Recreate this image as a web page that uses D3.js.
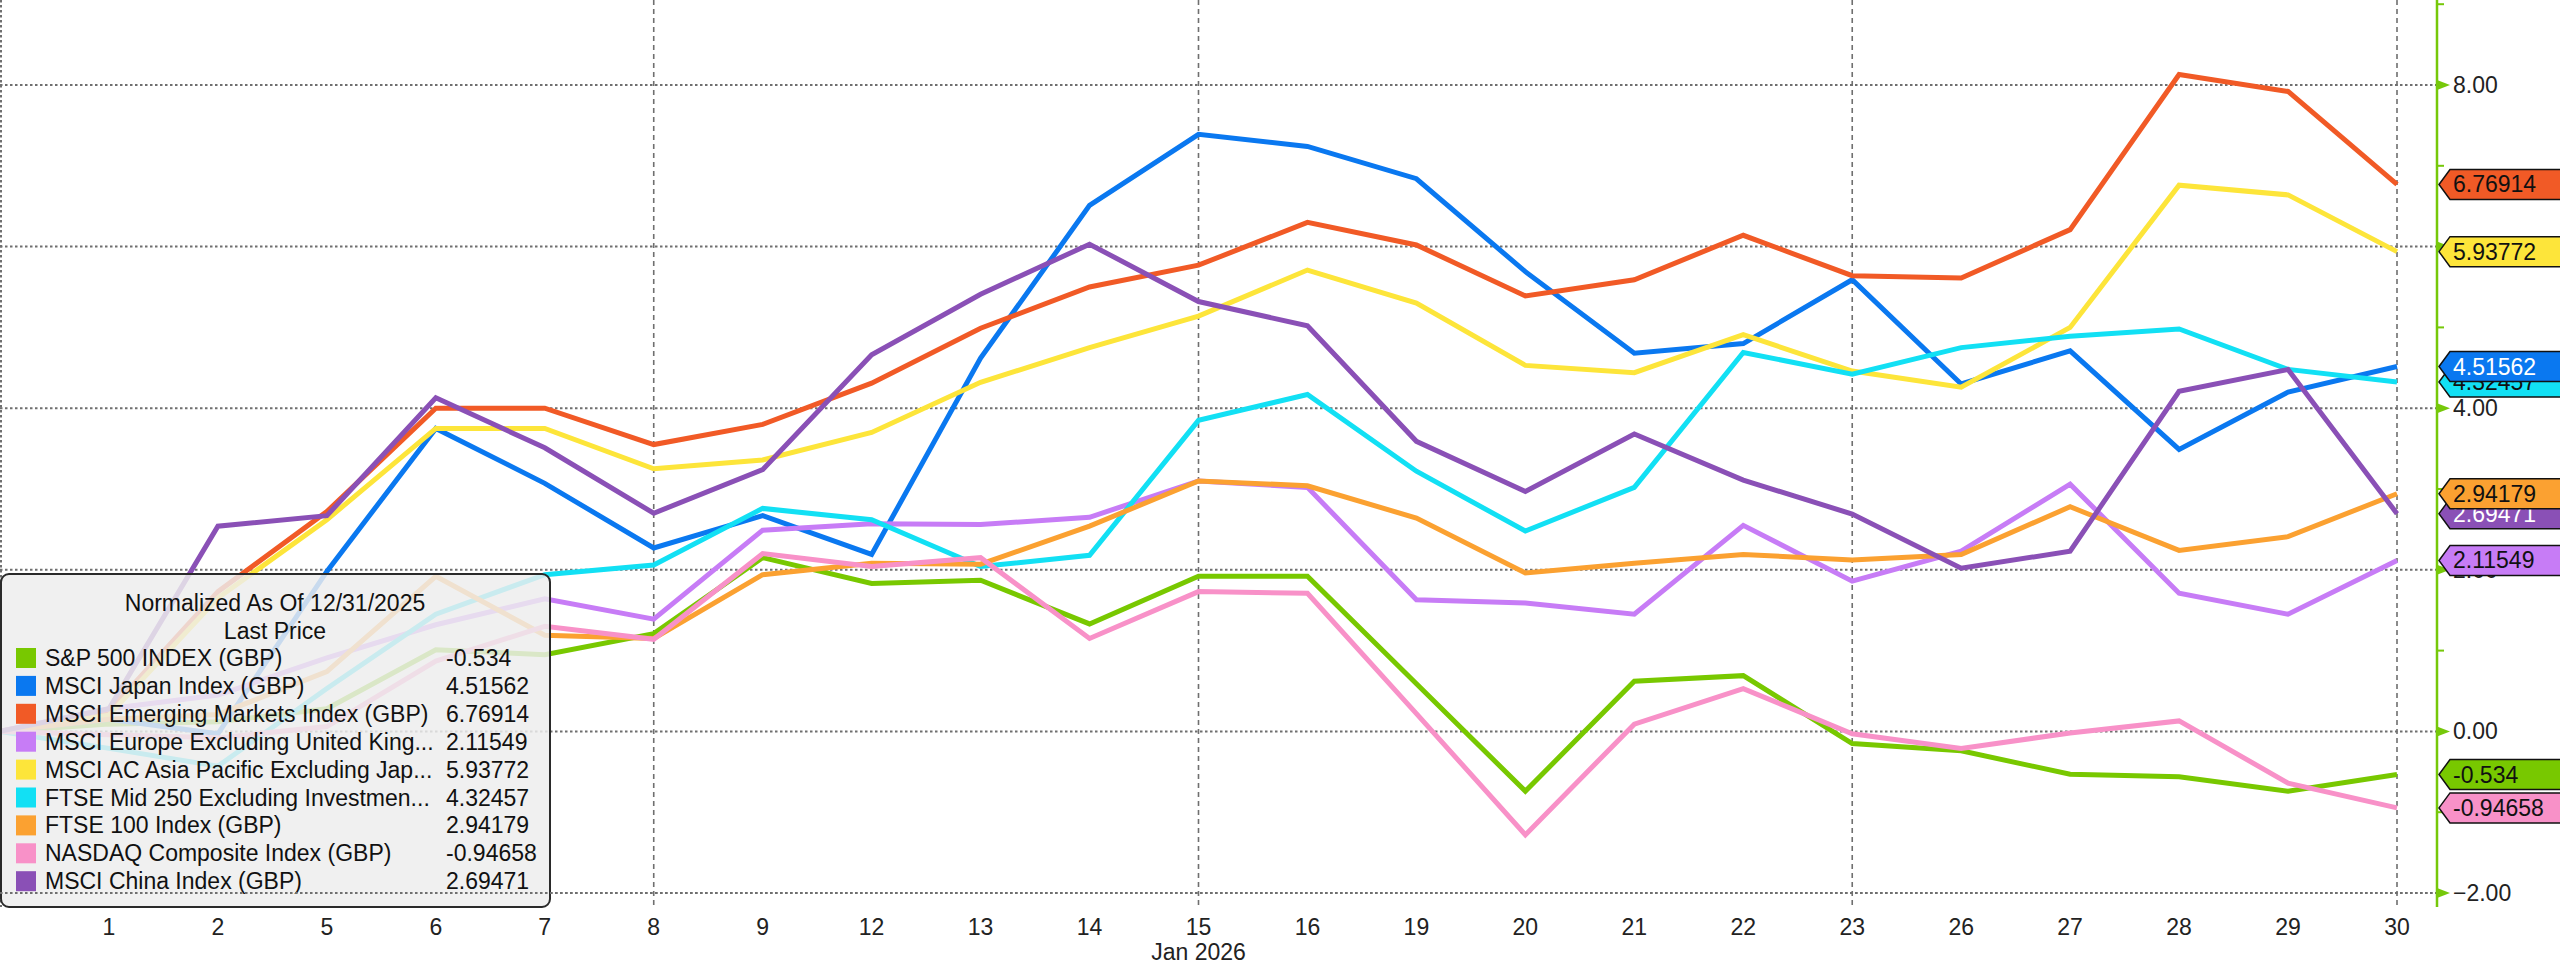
<!DOCTYPE html>
<html>
<head>
<meta charset="utf-8">
<script src="https://cdn.jsdelivr.net/npm/d3@7"></script>
<style>
  html, body { margin: 0; padding: 0; background: #ffffff; }
  svg { display: block; }
  text { font-family: "Liberation Sans", Arial, sans-serif; }
</style>
</head>
<body>
<svg id="chart" width="2560" height="967"></svg>
<script>
// ---------- DATA ----------
const dates = ["Dec 31","1","2","5","6","7","8","9","12","13","14","15","16","19","20","21","22","23","26","27","28","29","30"];
const gridDates = ["8","15","23","30"];
const yTickValues = [-2, 0, 2, 4, 6, 8];
const yMinorValues = [-1, 1, 3, 5, 7, 9];
const monthLabel = "Jan 2026";
const legendTitle = ["Normalized As Of 12/31/2025", "Last Price"];

const seriesNames = [
  "S&P 500 INDEX (GBP)",
  "MSCI Japan Index (GBP)",
  "MSCI Emerging Markets Index (GBP)",
  "MSCI Europe Excluding United King...",
  "MSCI AC Asia Pacific Excluding Jap...",
  "FTSE Mid 250 Excluding Investmen...",
  "FTSE 100 Index (GBP)",
  "NASDAQ Composite Index (GBP)",
  "MSCI China Index (GBP)"
];
const lastLabels = ["-0.534","4.51562","6.76914","2.11549","5.93772","4.32457","2.94179","-0.94658","2.69471"];

const spx     = [0, 0.09, 0.12, 0.28, 1.01, 0.95, 1.21, 2.15, 1.83, 1.87, 1.33, 1.92, 1.92, 0.59, -0.74, 0.62, 0.69, -0.15, -0.24, -0.53, -0.56, -0.74, -0.534];
const japan   = [0, 0.15, -0.03, 1.98, 3.75, 3.07, 2.27, 2.67, 2.19, 4.62, 6.51, 7.39, 7.24, 6.84, 5.69, 4.68, 4.80, 5.59, 4.30, 4.71, 3.49, 4.20, 4.51562];
const emerg   = [0, 0.25, 1.73, 2.72, 4.00, 4.00, 3.55, 3.80, 4.31, 4.99, 5.50, 5.77, 6.30, 6.02, 5.39, 5.59, 6.14, 5.64, 5.61, 6.21, 8.13, 7.92, 6.76914];
const europe  = [0, 0.28, 0.45, 0.91, 1.32, 1.64, 1.39, 2.49, 2.57, 2.56, 2.65, 3.10, 3.02, 1.63, 1.59, 1.45, 2.55, 1.86, 2.23, 3.06, 1.71, 1.45, 2.11549];
const acAsia  = [0, 0.20, 1.65, 2.62, 3.75, 3.75, 3.25, 3.36, 3.70, 4.32, 4.75, 5.14, 5.71, 5.30, 4.53, 4.44, 4.91, 4.46, 4.26, 5.00, 6.76, 6.64, 5.93772];
const ftseMid = [0, -0.21, -0.43, 0.53, 1.45, 1.94, 2.06, 2.76, 2.62, 2.04, 2.18, 3.85, 4.17, 3.22, 2.48, 3.02, 4.69, 4.42, 4.75, 4.89, 4.98, 4.48, 4.32457];
const ftse100 = [0, 0.15, 0.21, 0.74, 1.92, 1.19, 1.15, 1.94, 2.08, 2.07, 2.54, 3.10, 3.04, 2.64, 1.96, 2.08, 2.19, 2.12, 2.19, 2.78, 2.24, 2.41, 2.94179];
const nasdaq  = [0, -0.04, -0.08, 0.06, 0.87, 1.30, 1.14, 2.20, 2.04, 2.15, 1.15, 1.73, 1.71, 0.22, -1.28, 0.09, 0.53, -0.03, -0.21, -0.02, 0.13, -0.64, -0.94658];
const china   = [0, 0.28, 2.54, 2.67, 4.13, 3.51, 2.70, 3.24, 4.66, 5.41, 6.03, 5.32, 5.02, 3.59, 2.97, 3.68, 3.11, 2.69, 2.02, 2.23, 4.21, 4.48, 2.69471];

const seriesValues = [spx, japan, emerg, europe, acAsia, ftseMid, ftse100, nasdaq, china];
const seriesColors = ["#78c800", "#0a78f0", "#f15a26", "#c77cf6", "#fde53a", "#12e0f4", "#fba131", "#f891c8", "#8a50b6"];
const tagTextColors = ["#111", "#fff", "#111", "#111", "#111", "#111", "#111", "#111", "#fff"];

// ---------- LAYOUT ----------
const svg = d3.select("#chart");
const axisX = 2437;
const x = d3.scalePoint().domain(dates).range([0, 2397]);
const y = d3.scaleLinear().domain([-2, 8]).range([893, 85]);
const axisColor = "#76c80a";
const gridColor = "#6f6f6f";
const fontSize = 23;

// background
svg.append("rect").attr("width", 2560).attr("height", 967).attr("fill", "#fff");

// horizontal grid
const gGrid = svg.append("g");
gGrid.selectAll("line.h").data(yTickValues).join("line")
  .attr("x1", 0).attr("x2", axisX)
  .attr("y1", d => y(d)).attr("y2", d => y(d))
  .attr("stroke", gridColor).attr("stroke-width", 2)
  .attr("stroke-dasharray", "2.5,2.5");

// vertical grid
gGrid.selectAll("line.v").data(gridDates).join("line")
  .attr("x1", d => x(d)).attr("x2", d => x(d))
  .attr("y1", 0).attr("y2", 907)
  .attr("stroke", gridColor).attr("stroke-width", 1.6)
  .attr("stroke-dasharray", "5,4");
gGrid.append("line")
  .attr("x1", 1).attr("x2", 1).attr("y1", 0).attr("y2", 907)
  .attr("stroke", gridColor).attr("stroke-width", 2)
  .attr("stroke-dasharray", "2.5,2.5");

// lines
const line = d3.line().x((d, i) => x(dates[i])).y(d => y(d));
svg.append("g").selectAll("path").data(seriesValues).join("path")
  .attr("d", d => line(d))
  .attr("fill", "none")
  .attr("stroke", (d, i) => seriesColors[i])
  .attr("stroke-width", 5)
  .attr("stroke-linejoin", "miter")
  .attr("stroke-miterlimit", 6);

// x axis labels
svg.append("g").selectAll("text").data(dates.slice(1)).join("text")
  .attr("x", d => x(d)).attr("y", 927)
  .attr("text-anchor", "middle").attr("dominant-baseline", "central")
  .attr("font-size", fontSize).attr("fill", "#222")
  .text(d => d);
svg.append("text")
  .attr("x", x("15")).attr("y", 952)
  .attr("text-anchor", "middle").attr("dominant-baseline", "central")
  .attr("font-size", fontSize).attr("fill", "#222")
  .text(monthLabel);

// legend
const lg = svg.append("g");
lg.append("rect")
  .attr("x", 1).attr("y", 574).attr("width", 549).attr("height", 333)
  .attr("rx", 8).attr("ry", 8)
  .attr("fill", "#ededed").attr("fill-opacity", 0.84)
  .attr("stroke", "#2a2a2a").attr("stroke-width", 2);
lg.selectAll("text.title").data(legendTitle).join("text")
  .attr("x", 275).attr("y", (d, i) => 603 + i * 28)
  .attr("text-anchor", "middle").attr("dominant-baseline", "central")
  .attr("font-size", fontSize).attr("fill", "#111")
  .text(d => d);
const rowY = i => 658 + i * 27.9;
lg.selectAll("rect.sw").data(seriesNames).join("rect")
  .attr("x", 16).attr("y", (d, i) => rowY(i) - 10)
  .attr("width", 20).attr("height", 20)
  .attr("fill", (d, i) => seriesColors[i]);
lg.selectAll("text.nm").data(seriesNames).join("text")
  .attr("x", 45).attr("y", (d, i) => rowY(i))
  .attr("dominant-baseline", "central")
  .attr("font-size", fontSize).attr("fill", "#111")
  .text(d => d);
lg.selectAll("text.val").data(lastLabels).join("text")
  .attr("x", 446).attr("y", (d, i) => rowY(i))
  .attr("dominant-baseline", "central")
  .attr("font-size", fontSize).attr("fill", "#111")
  .text(d => d);

// bottom grid line over the legend
svg.append("line")
  .attr("x1", 0).attr("x2", axisX)
  .attr("y1", y(-2)).attr("y2", y(-2))
  .attr("stroke", gridColor).attr("stroke-width", 2)
  .attr("stroke-dasharray", "2.5,2.5");

// right axis
const ax = svg.append("g");
ax.append("line")
  .attr("x1", axisX).attr("x2", axisX).attr("y1", 0).attr("y2", 907)
  .attr("stroke", axisColor).attr("stroke-width", 2.5);
ax.selectAll("path.maj").data(yTickValues).join("path")
  .attr("d", d => `M${axisX},${y(d) - 5}L${axisX + 13},${y(d)}L${axisX},${y(d) + 5}Z`)
  .attr("fill", axisColor);
ax.selectAll("line.min").data(yMinorValues).join("line")
  .attr("x1", axisX).attr("x2", axisX + 7)
  .attr("y1", d => y(d)).attr("y2", d => y(d))
  .attr("stroke", axisColor).attr("stroke-width", 2);
ax.selectAll("text").data(yTickValues).join("text")
  .attr("x", axisX + 16).attr("y", d => y(d))
  .attr("dominant-baseline", "central")
  .attr("font-size", fontSize).attr("fill", "#222")
  .text(d => d3.format(".2f")(d));

// last-value tags (drawn in reverse legend order)
const order = d3.range(seriesValues.length).reverse();
const tg = svg.append("g");
order.forEach(i => {
  const v = seriesValues[i][seriesValues[i].length - 1];
  const cy = y(v);
  tg.append("path")
    .attr("d", `M${axisX + 2},${cy}L${axisX + 13},${cy - 15}L2590,${cy - 15}L2590,${cy + 15}L${axisX + 13},${cy + 15}Z`)
    .attr("fill", seriesColors[i])
    .attr("stroke", "#111").attr("stroke-width", 1.5);
  tg.append("text")
    .attr("x", axisX + 16).attr("y", cy)
    .attr("dominant-baseline", "central")
    .attr("font-size", fontSize).attr("fill", tagTextColors[i])
    .text(lastLabels[i]);
});
</script>
</body>
</html>
